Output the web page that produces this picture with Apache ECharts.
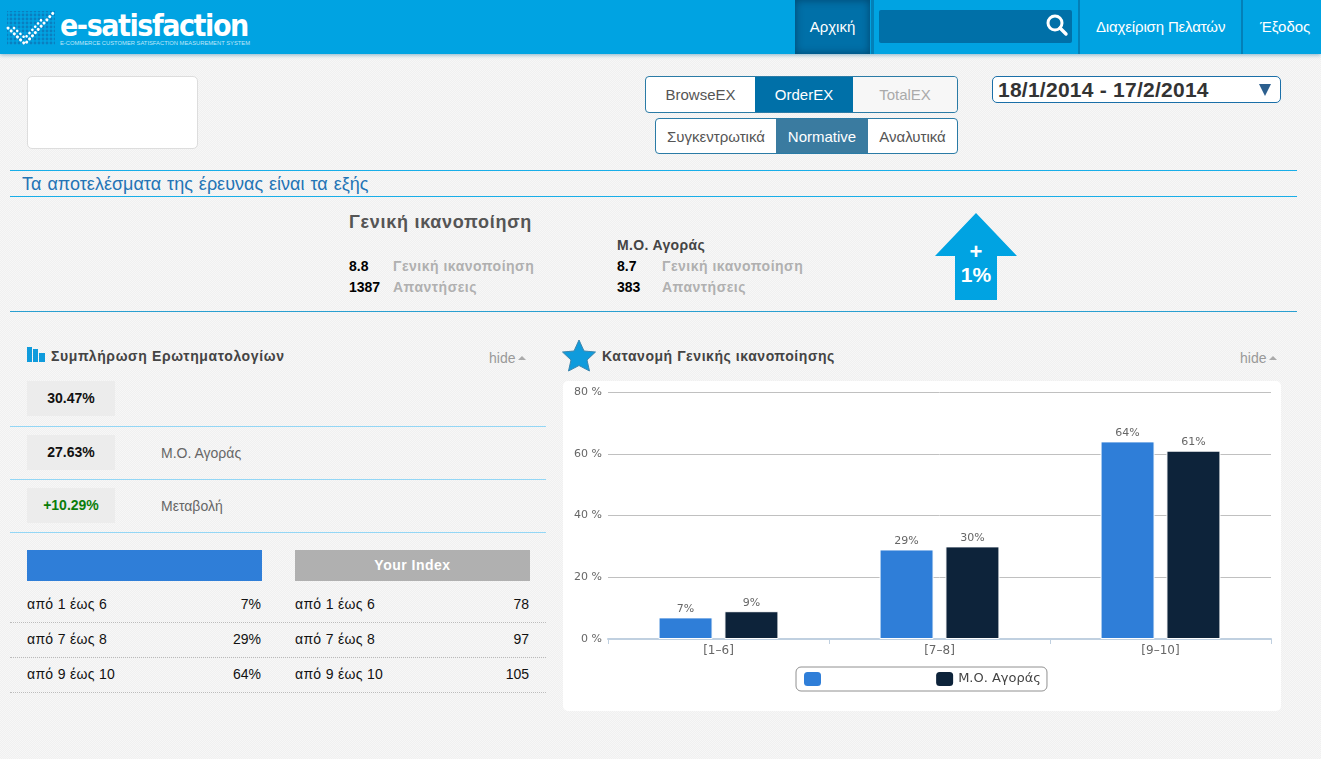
<!DOCTYPE html>
<html>
<head>
<meta charset="utf-8">
<title>e-satisfaction</title>
<script src="https://cdn.jsdelivr.net/npm/echarts@6/dist/echarts.min.js"></script>
<style>
html,body{margin:0;padding:0}
body{width:1321px;height:759px;overflow:hidden;position:relative;font-family:"Liberation Sans",Arial,sans-serif;
 background:repeating-conic-gradient(#f0f0f0 0 25%,#f7f7f7 0 50%) 0 0/2px 2px}
.a{position:absolute;white-space:nowrap}
.hr{position:absolute;height:1px}
#head{position:absolute;left:0;top:0;width:1321px;height:54px;background:#00a3e2;box-shadow:0 1px 4px rgba(0,100,150,.45)}
.nav{position:absolute;top:0;height:54px;line-height:54px;color:#fff;font-size:15px;text-align:center}
.sep{position:absolute;top:0;width:2px;height:54px;background:#0380b8}
.btn{position:absolute;box-sizing:border-box;text-align:center;font-size:15px;color:#555}
.grey{position:absolute;left:27px;width:88px;height:35px;line-height:34px;background:#ececec;text-align:center;font-weight:bold;font-size:14px;color:#111}
.tit{font-weight:bold;font-size:14px;color:#444;letter-spacing:.62px}
.hide{font-size:14px;color:#999}
.tri{position:absolute;width:0;height:0;border-left:4px solid transparent;border-right:4px solid transparent;border-bottom:4px solid #aaa}
</style>
</head>
<body>
<div id="head"></div>
<svg class="a" style="left:5px;top:9px" width="52" height="38">
 <defs><pattern id="dots" width="4" height="4" patternUnits="userSpaceOnUse"><circle cx="2" cy="2" r="1.4" fill="#0a7fc0"/></pattern></defs>
 <rect x="2" y="2" width="48" height="34" fill="url(#dots)"/>
 <polyline points="3,19 20,35 49,3" fill="none" stroke="#fff" stroke-width="3" stroke-linecap="round" stroke-dasharray="0.1 4.2"/>
 <polyline points="9,19 20,29 38,9" fill="none" stroke="#fff" stroke-width="2.6" stroke-linecap="round" stroke-dasharray="0.1 4.2"/>
</svg>
<div class="a" style="left:60px;top:10px;font:900 30px/32px 'DejaVu Sans',sans-serif;color:#fff;letter-spacing:-1.6px;transform-origin:0 0;transform:scaleX(.9)">e-satisfaction</div>
<div class="a" style="left:60px;top:39px;font-size:5.8px;line-height:8px;color:#bfe6f8">E-COMMERCE CUSTOMER SATISFACTION MEASUREMENT SYSTEM</div>

<div class="nav" style="left:795px;width:75px;background:#0070a8;box-shadow:inset 0 0 8px rgba(0,40,70,.6)">Αρχική</div>
<div class="sep" style="left:871px;width:3px"></div>
<div class="a" style="left:879px;top:10px;width:193px;height:33px;background:#0070a8;border-radius:2px"></div>
<svg class="a" style="left:1045px;top:13px" width="24" height="24"><circle cx="10" cy="10" r="7" fill="none" stroke="#fff" stroke-width="3"/><line x1="15" y1="15" x2="21" y2="21" stroke="#fff" stroke-width="3.4" stroke-linecap="round"/></svg>
<div class="sep" style="left:1078px"></div>
<div class="nav" style="left:1096px;letter-spacing:-.15px">Διαχείριση Πελατών</div>
<div class="sep" style="left:1241px"></div>
<div class="nav" style="left:1260px">Έξοδος</div>

<div class="a" style="left:27px;top:76px;width:169px;height:71px;background:#fff;border:1px solid #ddd;border-radius:5px"></div>

<div class="a" style="left:645px;top:76px;width:311px;height:35px;border:1px solid #2a7ba6;border-radius:4px;background:#fff"></div>
<div class="btn" style="left:646px;top:77px;width:109px;height:35px;line-height:36px">BrowseEX</div>
<div class="btn" style="left:755px;top:77px;width:98px;height:35px;line-height:36px;background:#0070a8;color:#fff">OrderEX</div>
<div class="btn" style="left:853px;top:77px;width:104px;height:35px;line-height:36px;background:#f7f7f7;color:#aaa;border-radius:0 4px 4px 0">TotalEX</div>
<div class="a" style="left:655px;top:118px;width:301px;height:34px;border:1px solid #2a7ba6;border-radius:4px;background:#fff"></div>
<div class="btn" style="left:656px;top:119px;width:120px;height:34px;line-height:36px">Συγκεντρωτικά</div>
<div class="btn" style="left:776px;top:119px;width:92px;height:34px;line-height:36px;background:#3a7ba0;color:#fff">Normative</div>
<div class="btn" style="left:868px;top:119px;width:89px;height:34px;line-height:36px">Αναλυτικά</div>

<div class="a" style="left:992px;top:76px;width:287px;height:25px;background:#fff;border:1px solid #1a6fa8;border-radius:5px"></div>
<div class="a" style="left:998px;top:77px;font-weight:bold;font-size:21px;line-height:25px;color:#333;letter-spacing:.25px">18/1/2014 - 17/2/2014</div>
<div class="a" style="left:1259px;top:84px;width:0;height:0;border-left:6px solid transparent;border-right:6px solid transparent;border-top:12px solid #2c5f8e"></div>

<div class="hr" style="left:10px;top:170px;width:1287px;background:#19aee8"></div>
<div class="a" style="left:22px;top:173px;font-size:18px;line-height:22px;color:#2474b5;word-spacing:1px">Τα αποτελέσματα της έρευνας είναι τα εξής</div>
<div class="hr" style="left:10px;top:196px;width:1287px;background:#19aee8"></div>

<div class="a" style="left:349px;top:211px;font-weight:bold;font-size:18px;line-height:22px;color:#555;letter-spacing:.72px">Γενική ικανοποίηση</div>
<div id="summary"></div>
<svg class="a" style="left:934px;top:213px" width="84" height="88"><polygon points="42,0 83,43 63,43 63,87 21,87 21,43 1,43" fill="#00a3e2"/></svg>
<div class="a" style="left:935px;top:240px;width:82px;text-align:center;color:#fff;font-weight:bold;font-size:22px;line-height:24px">+</div>
<div class="a" style="left:935px;top:262px;width:82px;text-align:center;color:#fff;font-weight:bold;font-size:21px;line-height:26px">1%</div>
<div class="hr" style="left:10px;top:311px;width:1287px;background:#2a9fd0"></div>

<svg class="a" style="left:27px;top:347px" width="19" height="16"><rect x="0" y="0" width="5" height="15" fill="#0f9bdc"/><rect x="6" y="2" width="5" height="13" fill="#0f9bdc"/><rect x="12" y="6" width="6" height="9" fill="#0f9bdc"/></svg>
<div class="a tit" style="left:51px;top:348px">Συμπλήρωση Ερωτηματολογίων</div>
<div class="a hide" style="left:489px;top:350px">hide</div>
<div class="tri" style="left:518px;top:356px"></div>

<div class="grey" style="top:381px">30.47%</div>
<div class="hr" style="left:10px;top:426px;width:536px;background:#93d6f5"></div>
<div class="grey" style="top:435px">27.63%</div>
<div class="a" style="left:161px;top:445px;font-size:14px;color:#666">Μ.Ο. Αγοράς</div>
<div class="hr" style="left:10px;top:479px;width:536px;background:#93d6f5"></div>
<div class="grey" style="top:488px;color:#0a7d0a">+10.29%</div>
<div class="a" style="left:161px;top:498px;font-size:14px;color:#666">Μεταβολή</div>
<div class="hr" style="left:10px;top:532px;width:536px;background:#93d6f5"></div>

<div class="a" style="left:27px;top:550px;width:235px;height:31px;background:#2f7ed8"></div>
<div class="a" style="left:295px;top:550px;width:235px;height:31px;line-height:31px;background:#b0b0b0;color:#fff;font-weight:bold;font-size:14px;text-align:center;letter-spacing:.5px">Your Index</div>
<div id="rows"></div>

<svg class="a" style="left:562px;top:339px" width="35" height="33"><polygon points="17,1 22,12 33.500,13 25,21 27.500,32 17,26.500 6.500,32 9,21 0.500,13 12,12" fill="#0f9bdc" stroke="#3d86ad" stroke-width="1"/></svg>
<div class="a tit" style="left:602px;top:348px;letter-spacing:.55px">Κατανομή Γενικής ικανοποίησης</div>
<div class="a hide" style="left:1240px;top:350px">hide</div>
<div class="tri" style="left:1269px;top:356px"></div>

<div class="a" style="left:563px;top:381px;width:718px;height:330px;background:#fff;border-radius:5px"></div>
<div id="chart" class="a" style="left:563px;top:381px;width:718px;height:330px"></div>

<script>
var categories = ['[1–6]', '[7–8]', '[9–10]'];
var ownValues = [7, 29, 64];
var marketValues = [9, 30, 61];
var ownName = ' ';
var marketName = 'Μ.Ο. Αγοράς';

var rangeLabels = ['από 1 έως 6', 'από 7 έως 8', 'από 9 έως 10'];
var rangePercent = ['7%', '29%', '64%'];
var rangeIndex = ['78', '97', '105'];

var summaryOwn = ['8.8', '1387'];
var summaryMarket = ['8.7', '383'];
var summaryLabels = ['Γενική ικανοποίηση', 'Απαντήσεις'];

function addText(parent, x, y, txt, css) {
	var d = document.createElement('div');
	d.className = 'a';
	d.style.cssText = 'left:' + x + 'px;top:' + y + 'px;' + css;
	d.textContent = txt;
	parent.appendChild(d);
}

var sum = document.getElementById('summary');
var sumValue = 'font-weight:bold;font-size:14px;color:#000';
var sumLabel = 'font-weight:bold;font-size:14px;color:#b0b0b0;letter-spacing:.5px';
addText(sum, 617, 237, 'Μ.Ο. Αγοράς', 'font-weight:bold;font-size:14px;color:#444;letter-spacing:.36px');
for (var i = 0; i < 2; i++) {
	var y = 258 + i * 21;
	addText(sum, 349, y, summaryOwn[i], sumValue);
	addText(sum, 393, y, summaryLabels[i], sumLabel);
	addText(sum, 617, y, summaryMarket[i], sumValue);
	addText(sum, 662, y, summaryLabels[i], sumLabel);
}

var rows = document.getElementById('rows');
var rowText = 'font-size:14px;color:#111;';
for (var i = 0; i < rangeLabels.length; i++) {
	var y = 596 + i * 35;
	addText(rows, 27, y, rangeLabels[i], rowText + 'letter-spacing:.3px');
	addText(rows, 295, y, rangeLabels[i], rowText + 'letter-spacing:.3px');
	addText(rows, 161, y, rangePercent[i], rowText + 'width:100px;text-align:right');
	addText(rows, 429, y, rangeIndex[i], rowText + 'width:100px;text-align:right');
	var line = document.createElement('div');
	line.className = 'hr';
	line.style.cssText = 'left:10px;top:' + (622 + i * 35) + 'px;width:536px;height:0;border-top:1px dotted #bbb';
	rows.appendChild(line);
}

var chartFont = '"DejaVu Sans", sans-serif';
var myChart = echarts.init(document.getElementById('chart'));
var barLabel = {
	show: true,
	position: 'top',
	distance: 3,
	formatter: '{c}%',
	color: '#666',
	fontSize: 11,
	fontFamily: chartFont
};
var option = {
	animation: false,
	grid: {left: 45, right: 10, top: 11, bottom: 72},
	legend: {
		left: 233,
		top: 286,
		orient: 'horizontal',
		data: [ownName, marketName],
		itemWidth: 17,
		itemHeight: 14,
		itemGap: 106,
		padding: [5, 6, 5, 8],
		borderColor: '#909090',
		borderWidth: 1,
		borderRadius: 5,
		itemStyle: {borderWidth: 0, borderRadius: 3},
		textStyle: {color: '#444', fontSize: 13, fontFamily: chartFont}
	},
	xAxis: {
		type: 'category',
		data: categories,
		axisLine: {lineStyle: {color: '#C0D0E0', width: 2}},
		axisTick: {show: true, alignWithLabel: false, length: 5, lineStyle: {color: '#C0D0E0', width: 1}},
		axisLabel: {color: '#666', fontSize: 12, fontFamily: chartFont, margin: 6}
	},
	yAxis: {
		type: 'value',
		min: 0,
		max: 80,
		interval: 20,
		axisLine: {show: false},
		axisTick: {show: false},
		axisLabel: {formatter: '{value} %', color: '#666', fontSize: 11, fontFamily: chartFont, margin: 6, padding: [3, 0, 0, 0]},
		splitLine: {lineStyle: {color: '#C0C0C0', width: 1}}
	},
	series: [{
		name: ownName,
		type: 'bar',
		data: ownValues,
		barWidth: 54,
		barGap: '22%',
		itemStyle: {color: '#2f7ed8', borderColor: '#fff', borderWidth: 1},
		label: barLabel
	}, {
		name: marketName,
		type: 'bar',
		data: marketValues,
		barWidth: 54,
		barGap: '22%',
		itemStyle: {color: '#0d233a', borderColor: '#fff', borderWidth: 1},
		label: barLabel
	}]
};
myChart.setOption(option);
</script>
</body>
</html>
